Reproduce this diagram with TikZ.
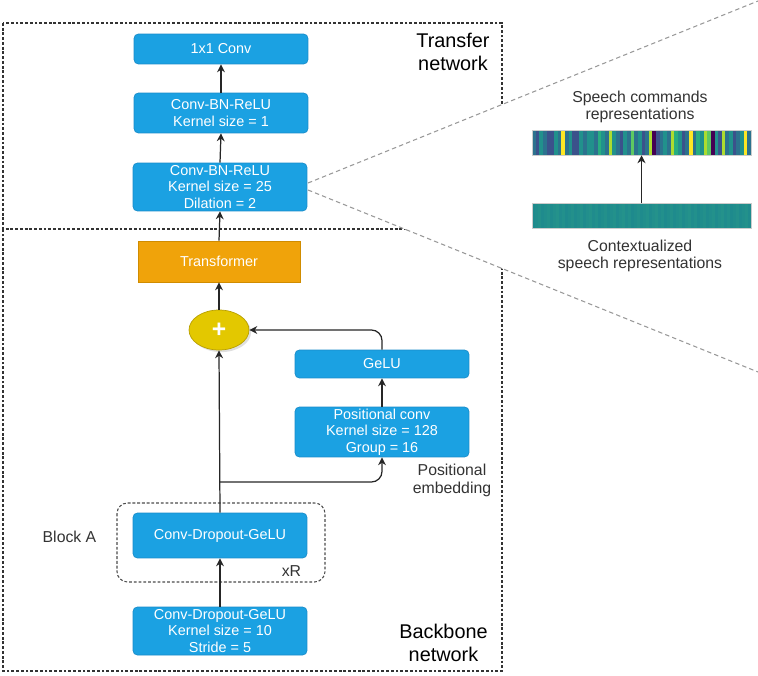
\documentclass[tikz,border=0pt]{standalone}
\usepackage{fontspec}
\setmainfont{Liberation Sans}
\usepackage{xcolor}
\usetikzlibrary{arrows.meta, shadows, calc, positioning, shapes.geometric}

\definecolor{boxblue}{HTML}{1BA1E2}
\definecolor{boxline}{HTML}{1A8CC9}
\definecolor{transorange}{HTML}{F0A30A}
\definecolor{transline}{HTML}{D08C00}
\definecolor{plusyellow}{HTML}{E3C800}
\definecolor{plusline}{HTML}{B89F00}
\definecolor{labelgray}{HTML}{333333}
\definecolor{v0}{HTML}{440154}
\definecolor{v1}{HTML}{3B528B}
\definecolor{v2}{HTML}{2C728E}
\definecolor{v3}{HTML}{21918C}
\definecolor{v4}{HTML}{28AE80}
\definecolor{v5}{HTML}{5EC962}
\definecolor{v6}{HTML}{ADDC30}
\definecolor{v7}{HTML}{FDE725}
\definecolor{vt}{HTML}{1E8A8D}
\definecolor{vg}{HTML}{28978A}

\begin{document}
\begin{tikzpicture}[x=0.02cm, y=-0.02cm,
    block/.style={draw=boxline, line width=0.4pt, fill=boxblue, rounded corners=2.5pt, text=white,
        minimum width=3.48cm, align=center, inner sep=1pt, font=\fontsize{8.2}{9.4}\selectfont},
    conn/.style={draw=black!85, line width=0.7pt, -{Stealth[length=4.5pt, width=4.5pt]}},
    netbox/.style={draw=black!80, line width=0.6pt, dash pattern=on 1.6pt off 1.1pt},
    zoomline/.style={draw=black!40, line width=0.6pt, dash pattern=on 2.5pt off 1.8pt},
    netlabel/.style={align=center, font=\fontsize{11.3}{13}\selectfont},
    sidelabel/.style={align=center, text=labelgray, font=\fontsize{9}{10}\selectfont},
    strip/.style={draw=black!20, line width=0.3pt, minimum width=4.38cm, minimum height=0.5cm, inner sep=0pt}]
    \useasboundingbox (0,0) rectangle (758,676);

    \draw[netbox] (3,23) rectangle (502,229);
    \draw[netbox] (502,229) -- (502,671) -- (3,671) -- (3,229);

    \fill[white] (308,183) -- (758,1) -- (758,372) -- (308,190) -- cycle;
    \draw[zoomline] (308,183) -- (758,1);
    \draw[zoomline] (308,190) -- (758,372);

    \node[block, minimum height=0.6cm] (conv) at (221,49) {1x1 Conv};
    \node[block, minimum height=0.8cm] (cbr1) at (221,113) {Conv-BN-ReLU\\Kernel size = 1};
    \node[block, minimum height=0.96cm] (cbr25) at (220,187) {Conv-BN-ReLU\\Kernel size = 25\\Dilation = 2};
    \node[block, draw=transline, fill=transorange, rounded corners=0pt, minimum width=3.24cm, minimum height=0.82cm] (trans) at (219,261.5) {Transformer};
    \node[ellipse, draw=plusline, line width=0.4pt, fill=plusyellow, minimum width=1.2cm, minimum height=0.8cm, inner sep=0pt, text=white,
        font=\fontsize{14}{14}\selectfont\bfseries, drop shadow={shadow xshift=1.2pt, shadow yshift=-1.2pt, opacity=0.25}] (plus) at (219,330) {+};
    \node[block, minimum height=0.56cm] (gelu) at (382,364) {GeLU};
    \node[block, minimum height=0.96cm] (posconv) at (382,432) {Positional conv\\Kernel size = 128\\Group = 16};
    \node[block, minimum height=0.9cm] (cdg) at (220,535.5) {Conv-Dropout-GeLU};
    \node[block, minimum height=0.96cm] (cdg0) at (220,631) {Conv-Dropout-GeLU\\Kernel size = 10\\Stride = 5};

    \draw[netbox, draw=black!70, rounded corners=6pt] (117,503) rectangle (325,582);

    \node[netlabel] (transfer) at (453,52) {Transfer\\network};
    \node[netlabel] (backbone) at (443.5,643) {Backbone\\network};
    \node[sidelabel] (posemb) at (452,480.5) {Positional\\embedding};
    \node[sidelabel] (blocka) at (69.5,537) {Block A};
    \node[sidelabel] (xr) at (291.5,571) {xR};
    \node[sidelabel] (cmdlabel) at (640,107) {Speech commands\\representations};
    \node[sidelabel] (ctxlabel) at (640,256) {Contextualized\\speech representations};

    \foreach \c [count=\i from 0] in {2,1,3,2,1,1,3,2,7,2,3,1,1,3,2,3,3,2,4,3,2,6,3,2,1,3,2,5,2,3,
        1,2,6,0,1,2,3,2,6,4,3,1,2,7,2,4,3,6,5,0,3,1,6,2,3,1,2,3,7,2}
        \fill[v\c] (532+\i*3.65,130) rectangle ++(3.7,25);
    \node[strip] (cmdrep) at (641.5,142.5) {};

    \foreach \i in {0,...,72} {
        \pgfmathtruncatemacro\t{mod(\i*37,11)*6}
        \fill[vg!\t!vt] (532+\i*3,204) rectangle ++(3.05,24);
    }
    \node[strip] (ctxrep) at (641.5,216) {};

    \coordinate (split) at (219,482);
    \draw[conn] (cdg0.north) -- (cdg.south);
    \draw[conn] (cdg.north) -- (plus.south);
    \draw[conn, rounded corners=6pt] (split) -| (posconv.south);
    \draw[conn] (posconv.north) -- (gelu.south);
    \draw[conn, rounded corners=6pt] (gelu.north) |- (plus.east);
    \draw[conn] (plus.north) -- (trans.south);
    \draw[conn] (trans.north) -- (cbr25.south);
    \draw[conn] (cbr25.north) -- (cbr1.south);
    \draw[conn] (cbr1.north) -- (conv.south);
    \draw[conn] (ctxrep.north) -- (cmdrep.south);
\end{tikzpicture}
\end{document}
